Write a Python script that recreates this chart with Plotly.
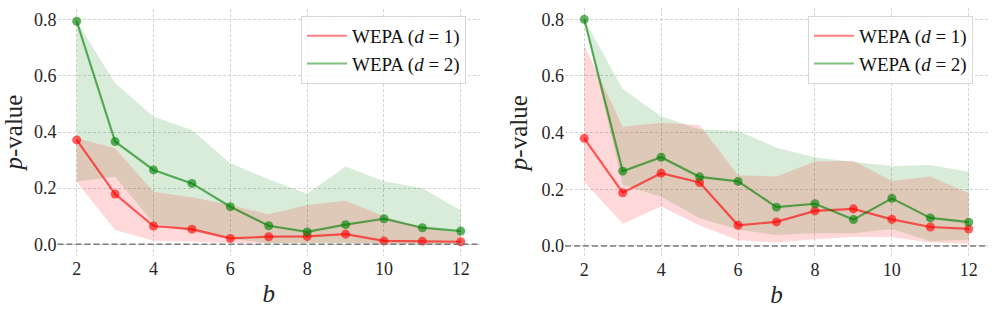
import plotly.graph_objects as go

b_values = [2, 3, 4, 5, 6, 7, 8, 9, 10, 11, 12]
x_ticks = [2, 4, 6, 8, 10, 12]
y_ticks = [0.0, 0.2, 0.4, 0.6, 0.8]
y_tick_labels = ["0.0", "0.2", "0.4", "0.6", "0.8"]
series_names = ["WEPA (<i>d</i> = 1)", "WEPA (<i>d</i> = 2)"]

# left panel
left_red_mean = [0.372, 0.179, 0.065, 0.054, 0.021, 0.027, 0.028, 0.036, 0.012, 0.011, 0.009]
left_red_upper = [0.378, 0.342, 0.187, 0.168, 0.14, 0.107, 0.14, 0.155, 0.10, 0.06, 0.04]
left_red_lower = [0.222, 0.051, 0.013, 0.01, 0.004, 0.004, 0.004, 0.005, 0.001, 0.001, 0.001]
left_green_mean = [0.795, 0.366, 0.265, 0.217, 0.134, 0.066, 0.044, 0.070, 0.091, 0.059, 0.047]
left_green_upper = [0.795, 0.574, 0.455, 0.407, 0.289, 0.232, 0.18, 0.277, 0.225, 0.2, 0.12]
left_green_lower = [0.224, 0.241, 0.075, 0.045, 0.02, 0.003, 0.003, 0.004, 0.001, 0.001, 0.001]

# right panel
right_red_mean = [0.380, 0.188, 0.257, 0.224, 0.073, 0.085, 0.124, 0.131, 0.094, 0.067, 0.060]
right_red_upper = [0.709, 0.421, 0.435, 0.427, 0.25, 0.245, 0.298, 0.301, 0.229, 0.245, 0.186]
right_red_lower = [0.227, 0.078, 0.139, 0.072, 0.02, 0.012, 0.024, 0.032, 0.031, 0.012, 0.008]
right_green_mean = [0.80, 0.264, 0.313, 0.244, 0.228, 0.137, 0.149, 0.093, 0.168, 0.099, 0.084]
right_green_upper = [0.80, 0.554, 0.458, 0.412, 0.407, 0.347, 0.313, 0.296, 0.282, 0.286, 0.262]
right_green_lower = [0.80, 0.215, 0.174, 0.098, 0.058, 0.039, 0.045, 0.045, 0.06, 0.017, 0.022]

FONT = "Liberation Serif"
RED_FILL = "rgba(255,0,0,0.15)"
GREEN_FILL = "rgba(0,128,0,0.15)"
RED_LINE = "rgba(255,0,0,0.62)"
GREEN_LINE = "rgba(0,128,0,0.62)"
RED_LEG = "rgba(255,0,0,0.5)"
GREEN_LEG = "rgba(0,128,0,0.5)"

fig = go.Figure()

panels = [
    dict(xa="x", ya="y", legend="legend",
         red=(left_red_mean, left_red_lower, left_red_upper),
         green=(left_green_mean, left_green_lower, left_green_upper)),
    dict(xa="x2", ya="y2", legend="legend2",
         red=(right_red_mean, right_red_lower, right_red_upper),
         green=(right_green_mean, right_green_lower, right_green_upper)),
]

for p in panels:
    for key, fill in (("green", GREEN_FILL), ("red", RED_FILL)):
        mean, lo, hi = p[key]
        fig.add_trace(go.Scatter(
            x=b_values + b_values[::-1], y=hi + lo[::-1],
            fill="toself", fillcolor=fill, line=dict(width=0),
            mode="lines", hoverinfo="skip", showlegend=False,
            xaxis=p["xa"], yaxis=p["ya"]))
    for key, lc, legc, name in (("red", RED_LINE, RED_LEG, series_names[0]),
                                ("green", GREEN_LINE, GREEN_LEG, series_names[1])):
        mean, lo, hi = p[key]
        fig.add_trace(go.Scatter(
            x=b_values, y=mean, mode="lines+markers",
            line=dict(color=lc, width=2.2),
            marker=dict(color=lc, size=9, line=dict(width=0)),
            showlegend=False, xaxis=p["xa"], yaxis=p["ya"]))
        fig.add_trace(go.Scatter(
            x=[None], y=[None], mode="lines", name=name,
            line=dict(color=legc, width=2),
            showlegend=True, legend=p["legend"],
            xaxis=p["xa"], yaxis=p["ya"]))
    fig.add_shape(type="line", xref=p["xa"] + " domain", yref=p["ya"],
                  x0=0, x1=1, y0=0, y1=0,
                  line=dict(color="rgba(110,110,110,0.9)", width=1.6, dash="6px,3px"))

axis_common = dict(
    showline=False, zeroline=False, showgrid=True, automargin=False,
    gridcolor="rgba(200,200,200,0.8)", griddash="3px,2px", gridwidth=0.8,
    ticks="", tickfont=dict(family=FONT, size=18, color="#262626"),
)

fig.update_layout(
    width=996, height=315,
    margin=dict(l=0, r=0, t=0, b=0, autoexpand=False),
    paper_bgcolor="white", plot_bgcolor="white",
    font=dict(family=FONT, color="#262626"),
    xaxis=dict(domain=[57.5 / 996, 480 / 996], range=[1.5, 12.5],
               tickvals=x_ticks, anchor="y",
               title=dict(text="<i>b</i>", font=dict(family=FONT, size=25), standoff=6),
               **axis_common),
    yaxis=dict(domain=[59.5 / 315, 306.4 / 315], range=[-0.04, 0.84],
               tickvals=y_ticks, ticktext=y_tick_labels, anchor="x",
               title=dict(text="<i>p</i>-value", font=dict(family=FONT, size=25), standoff=6),
               **axis_common),
    xaxis2=dict(domain=[565 / 996, 988 / 996], range=[1.5, 12.5],
                tickvals=x_ticks, anchor="y2",
                title=dict(text="<i>b</i>", font=dict(family=FONT, size=25), standoff=6),
                **axis_common),
    yaxis2=dict(domain=[57.7 / 315, 307 / 315], range=[-0.04, 0.84],
                tickvals=y_ticks, ticktext=y_tick_labels, anchor="x2",
                title=dict(text="<i>p</i>-value", font=dict(family=FONT, size=25), standoff=6),
                **axis_common),
    legend=dict(x=301 / 996, y=1 - 16 / 315, xanchor="left", yanchor="top",
                bgcolor="rgba(255,255,255,0.8)", bordercolor="#d6d6d6", borderwidth=1,
                font=dict(family=FONT, size=19, color="#111111"),
                tracegroupgap=0, itemwidth=40),
    legend2=dict(x=808 / 996, y=1 - 16 / 315, xanchor="left", yanchor="top",
                 bgcolor="rgba(255,255,255,0.8)", bordercolor="#d6d6d6", borderwidth=1,
                 font=dict(family=FONT, size=19, color="#111111"),
                 tracegroupgap=0, itemwidth=40),
)

fig.write_html("out.html", config={"displayModeBar": False},
               post_script="document.body.style.margin='0';document.body.style.padding='0';")
